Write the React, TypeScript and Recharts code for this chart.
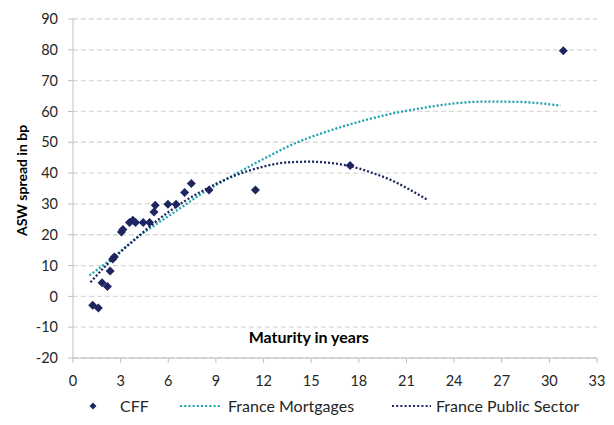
import React from "react";
import {
  ComposedChart,
  Scatter,
  Line,
  XAxis,
  YAxis,
  CartesianGrid,
  Legend,
  Label,
} from "recharts";

// CFF bonds
const cffMaturity = [
  1.24, 1.6, 1.83, 2.17, 2.34, 2.5, 2.6, 3.05, 3.14, 3.56, 3.77, 3.94, 4.42,
  4.82, 5.1, 5.18, 5.98, 6.49, 7.03, 7.45, 8.57, 11.49, 17.45, 30.88,
];
const cffSpread = [
  -2.9, -3.8, 4.4, 3.2, 8.2, 12.1, 12.8, 20.9, 21.7, 24, 24.7, 24, 24, 24,
  27.4, 29.6, 29.9, 29.9, 33.7, 36.6, 34.5, 34.5, 42.5, 79.7,
];

// France Mortgages trend
const mortMaturity = [
  1.03, 2, 3, 4, 5, 6, 7, 8, 10, 12, 14, 16, 18, 20, 22, 24, 26, 28, 29.5, 30.7,
];
const mortSpread = [
  6.8, 10.5, 14.6, 19, 22.6, 26, 29.5, 33, 39, 44.6, 49.7, 53.5, 56.6, 59.2,
  61.1, 62.6, 63.2, 63.1, 62.6, 61.9,
];

// France Public Sector trend
const publicMaturity = [
  1.1, 2, 3, 4, 5, 6, 7, 8, 10, 12, 13, 14, 15, 16, 17, 18, 19, 20, 21, 22.3,
];
const publicSpread = [
  4.6, 9.6, 14.5, 18.9, 23.4, 27.3, 30.8, 33.8, 38.8, 42.1, 43.2, 43.6, 43.7,
  43.4, 42.7, 41.5, 39.8, 37.8, 35.2, 31.4,
];

const xTicks = [0, 3, 6, 9, 12, 15, 18, 21, 24, 27, 30, 33];
const yTicks = [-20, -10, 0, 10, 20, 30, 40, 50, 60, 70, 80, 90];

const NAVY = "#1d2660";
const TEAL = "#1ba2ad";
const FONT = "Lato, 'Open Sans', sans-serif";

const cffData = cffMaturity.map((x, i) => ({ x, y: cffSpread[i] }));
const mortData = mortMaturity.map((x, i) => ({ x, y: mortSpread[i] }));
const publicData = publicMaturity.map((x, i) => ({ x, y: publicSpread[i] }));

function Diamond(props: any) {
  const { cx, cy } = props;
  if (cx == null || cy == null) return null;
  const r = 4.5;
  return (
    <path
      d={`M${cx},${cy - r}L${cx + r},${cy}L${cx},${cy + r}L${cx - r},${cy}Z`}
      fill={NAVY}
    />
  );
}

function ChartLegend() {
  const text: React.CSSProperties = {
    position: "absolute",
    top: 0,
    fontFamily: FONT,
    fontSize: 16,
    color: "#262626",
    lineHeight: "20px",
    whiteSpace: "nowrap",
  };
  const dots = (left: number, width: number, color: string) => (
    <svg
      style={{ position: "absolute", left, top: 0 }}
      width={width}
      height={20}
    >
      <line
        x1={0}
        y1={10}
        x2={width}
        y2={10}
        stroke={color}
        strokeWidth={2.2}
        strokeDasharray="2 2.2"
      />
    </svg>
  );
  return (
    <div style={{ position: "relative", width: 614, height: 20 }}>
      <svg style={{ position: "absolute", left: 88, top: 0 }} width={10} height={20}>
        <path d="M5,6.5L8.5,10L5,13.5L1.5,10Z" fill={NAVY} />
      </svg>
      <span style={{ ...text, left: 120 }}>CFF</span>
      {dots(180, 40, TEAL)}
      <span style={{ ...text, left: 228 }}>France Mortgages</span>
      {dots(392, 39, NAVY)}
      <span style={{ ...text, left: 436 }}>France Public Sector</span>
    </div>
  );
}

export default function App() {
  return (
    <div style={{ position: "absolute", left: 0, top: 0, background: "#fff" }}>
      <ComposedChart
        width={614}
        height={425}
        margin={{ top: 19, right: 17, bottom: 0, left: 0 }}
      >
        <CartesianGrid
          vertical={false}
          stroke="#d9d9d9"
          strokeWidth={1.3}
          strokeDasharray="5 3"
        />
        <XAxis
          type="number"
          dataKey="x"
          domain={[0, 33]}
          ticks={xTicks}
          allowDataOverflow
          height={47}
          tickSize={5}
          tickMargin={13}
          stroke="#bfbfbf"
          tick={{ fill: "#262626", fontSize: 14.5, fontFamily: FONT }}
        >
          <Label
            content={(p: any) => {
              const vb = p.viewBox || {};
              return (
                <text
                  x={vb.x + vb.width * 0.45}
                  y={vb.y - 22}
                  textAnchor="middle"
                  dominantBaseline="central"
                  fontFamily={FONT}
                  fontSize={16}
                  fontWeight="bold"
                  fill="#000"
                >
                  Maturity in years
                </text>
              );
            }}
          />
        </XAxis>
        <YAxis
          type="number"
          dataKey="y"
          domain={[-20, 90]}
          ticks={yTicks}
          allowDataOverflow
          width={73}
          tickSize={5}
          tickMargin={10}
          stroke="#bfbfbf"
          tick={{ fill: "#262626", fontSize: 14.5, fontFamily: FONT }}
        >
          <Label
            content={(p: any) => {
              const vb = p.viewBox || {};
              const cx = vb.x + 21;
              const cy = vb.y + vb.height / 2 - 8;
              return (
                <text
                  x={cx}
                  y={cy}
                  transform={`rotate(-90, ${cx}, ${cy})`}
                  textAnchor="middle"
                  dominantBaseline="central"
                  fontFamily={FONT}
                  fontSize={14}
                  fontWeight="bold"
                  fill="#000"
                >
                  ASW spread in bp
                </text>
              );
            }}
          />
        </YAxis>
        <Legend
          verticalAlign="bottom"
          content={() => <ChartLegend />}
          wrapperStyle={{ left: 0, top: 396, bottom: "auto", width: 614, height: 20 }}
        />
        <Line
          name="France Mortgages"
          data={mortData}
          dataKey="y"
          type="monotone"
          stroke={TEAL}
          strokeWidth={2.3}
          strokeDasharray="2 2"
          dot={false}
          activeDot={false}
          isAnimationActive={false}
        />
        <Line
          name="France Public Sector"
          data={publicData}
          dataKey="y"
          type="monotone"
          stroke={NAVY}
          strokeWidth={2.3}
          strokeDasharray="2 2"
          dot={false}
          activeDot={false}
          isAnimationActive={false}
        />
        <Scatter
          name="CFF"
          data={cffData}
          dataKey="y"
          shape={<Diamond />}
          isAnimationActive={false}
        />
      </ComposedChart>
    </div>
  );
}
